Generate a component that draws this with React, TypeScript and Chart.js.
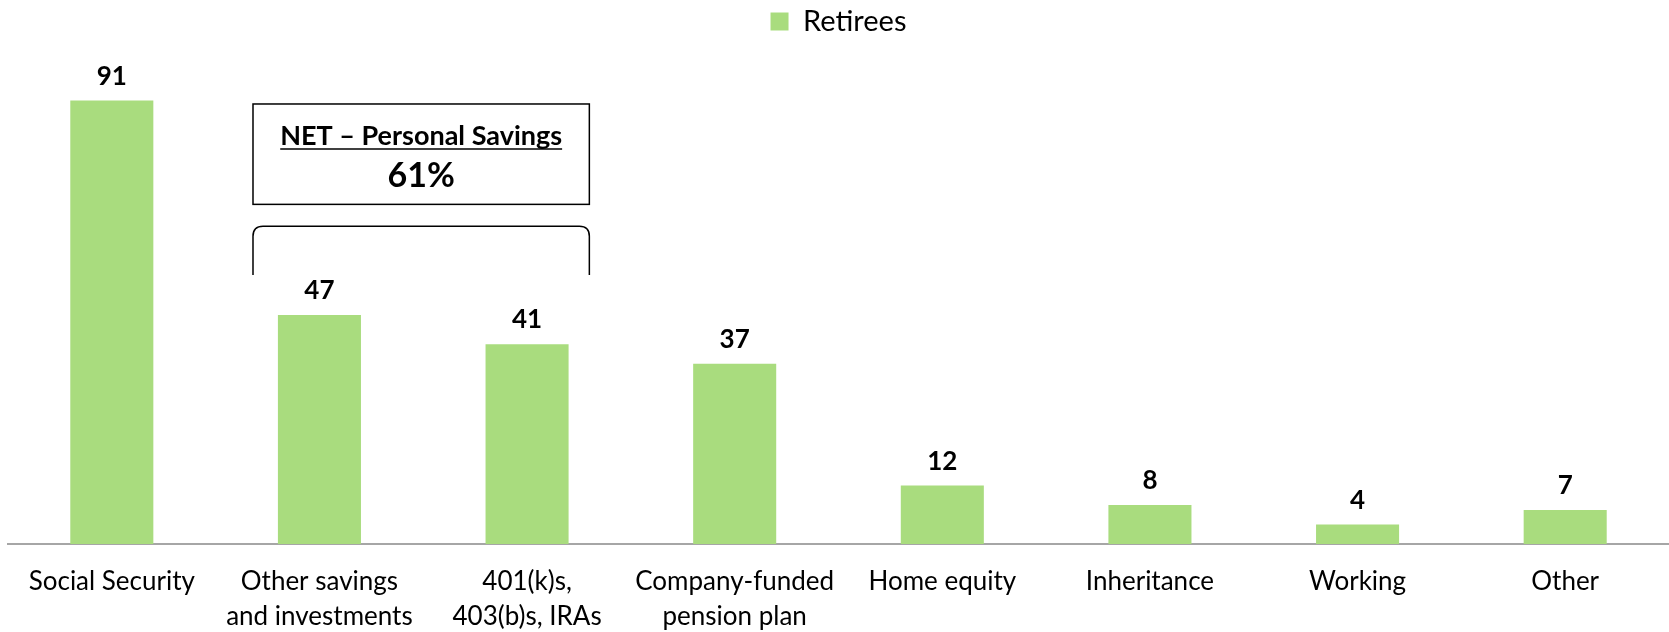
import React, { useEffect, useRef } from "react";
import { Chart, registerables } from "chart.js";

Chart.register(...registerables);

const categories: string[][] = [
  ["Social Security"],
  ["Other savings", "and investments"],
  ["401(k)s,", "403(b)s, IRAs"],
  ["Company-funded", "pension plan"],
  ["Home equity"],
  ["Inheritance"],
  ["Working"],
  ["Other"],
];
const retirees: number[] = [91, 47, 41, 37, 12, 8, 4, 7];
const seriesName = "Retirees";
const netTitle = "NET – Personal Savings";
const netValue = "61%";

const FONT = "Lato, 'Open Sans', sans-serif";
const BAR_COLOR = "#a9dc7e";

const overlayPlugin = {
  id: "overlay",
  afterDatasetsDraw(chart: any) {
    const ctx = chart.ctx as CanvasRenderingContext2D;
    const meta = chart.getDatasetMeta(0);
    const xScale = chart.scales.x;
    const yScale = chart.scales.y;
    ctx.save();
    // value labels
    ctx.fillStyle = "#000";
    ctx.font = `bold 26px ${FONT}`;
    ctx.textAlign = "center";
    ctx.textBaseline = "alphabetic";
    meta.data.forEach((bar: any, i: number) => {
      ctx.fillText(String(retirees[i]), bar.x, bar.y - 16);
    });

    // NET box
    const catW = xScale.width / categories.length;
    const left = xScale.getPixelForValue(1) - 0.32 * catW;
    const right = xScale.getPixelForValue(2) + 0.3 * catW;
    const boxTop = yScale.getPixelForValue(90.3);
    const boxBottom = yScale.getPixelForValue(69.7);
    ctx.strokeStyle = "#000";
    ctx.lineWidth = 1.5;
    ctx.strokeRect(left, boxTop, right - left, boxBottom - boxTop);

    const cx = (left + right) / 2;
    ctx.font = `bold 27px ${FONT}`;
    ctx.textAlign = "center";
    ctx.fillText(netTitle, cx, boxTop + 41);
    const tw = ctx.measureText(netTitle).width;
    ctx.beginPath();
    ctx.lineWidth = 1.5;
    ctx.moveTo(cx - tw / 2, boxTop + 45);
    ctx.lineTo(cx + tw / 2, boxTop + 45);
    ctx.stroke();
    ctx.font = `bold 34px ${FONT}`;
    ctx.fillText(netValue, cx, boxTop + 83);

    // bracket
    const bTop = yScale.getPixelForValue(65.2);
    const bBottom = yScale.getPixelForValue(55.2);
    const r = 10;
    ctx.beginPath();
    ctx.lineWidth = 1.5;
    ctx.moveTo(left, bBottom);
    ctx.lineTo(left, bTop + r);
    ctx.quadraticCurveTo(left, bTop, left + r, bTop);
    ctx.lineTo(right - r, bTop);
    ctx.quadraticCurveTo(right, bTop, right, bTop + r);
    ctx.lineTo(right, bBottom);
    ctx.stroke();
    ctx.restore();
  },
};

export default function App() {
  const ref = useRef<HTMLCanvasElement | null>(null);
  useEffect(() => {
    document.body.style.margin = "0";
    if (!ref.current) return;
    const chart = new Chart(ref.current, {
      type: "bar",
      data: {
        labels: categories,
        datasets: [
          {
            label: seriesName,
            data: retirees,
            backgroundColor: BAR_COLOR,
            borderWidth: 0,
            categoryPercentage: 1,
            barPercentage: 0.4,
          },
        ],
      },
      options: {
        animation: false,
        responsive: false,
        maintainAspectRatio: false,
        layout: { padding: { top: 0, left: 8, right: 0, bottom: 0 } },
        plugins: {
          legend: {
            display: true,
            position: "top",
            labels: {
              boxWidth: 18,
              boxHeight: 18,
              padding: 7,
              color: "#000",
              font: { family: FONT, size: 29 },
            },
          },
          tooltip: { enabled: false },
        },
        scales: {
          x: {
            grid: { display: false, drawTicks: false, tickLength: 0 },
            border: { display: true, color: "#a6a6a6", width: 2 },
            ticks: {
              color: "#000",
              padding: 20,
              maxRotation: 0,
              autoSkip: false,
              font: { family: FONT, size: 26, lineHeight: 1.35 },
            },
            afterFit(scale: any) {
              scale.height = 88;
            },
          },
          y: {
            display: false,
            min: 0,
            max: 102.2,
          },
        },
      },
      plugins: [overlayPlugin],
    });
    return () => chart.destroy();
  }, []);
  return (
    <div style={{ width: 1669, height: 632 }}>
      <canvas ref={ref} width={1669} height={632} style={{ display: "block" }} />
    </div>
  );
}
